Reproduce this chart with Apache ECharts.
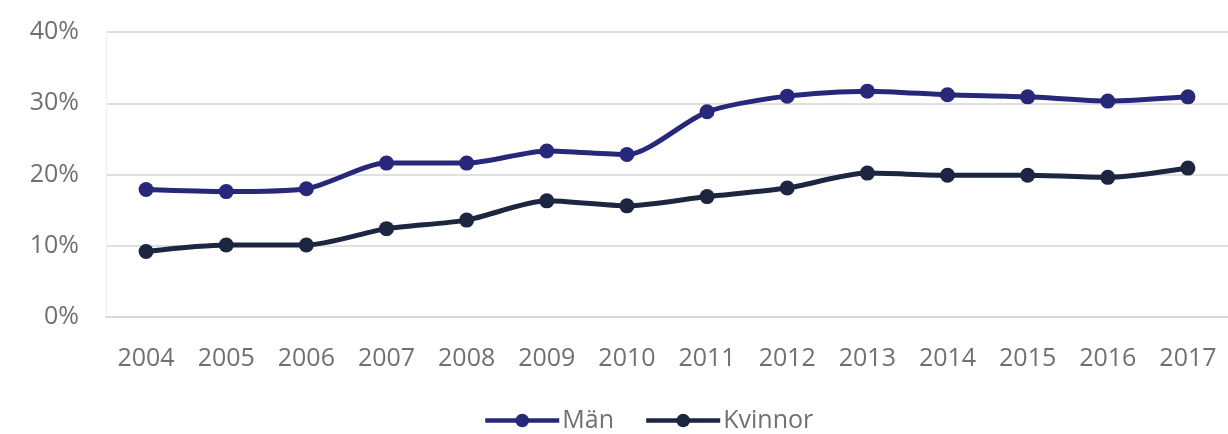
<!DOCTYPE html>
<html>
<head>
<meta charset="utf-8">
<script src="https://cdn.jsdelivr.net/npm/echarts@6/dist/echarts.min.js"></script>
<style>
html,body{margin:0;padding:0;background:#fff;}
#chart{width:1228px;height:434px;}
</style>
</head>
<body>
<div id="chart"></div>
<script>
const years = ['2004','2005','2006','2007','2008','2009','2010','2011','2012','2013','2014','2015','2016','2017'];
const man = [17.9, 17.6, 18.0, 21.6, 21.6, 23.3, 22.8, 28.8, 31.0, 31.7, 31.2, 30.9, 30.3, 30.9];
const kvinnor = [9.2, 10.1, 10.1, 12.4, 13.6, 16.3, 15.6, 16.9, 18.1, 20.2, 19.9, 19.9, 19.6, 20.9];
const yTicks = [0, 10, 20, 30, 40];

const chart = echarts.init(document.getElementById('chart'), null, {renderer: 'canvas'});
const font = '"Open Sans", sans-serif';
chart.setOption({
  backgroundColor: '#ffffff',
  animation: false,
  grid: {left: 106, right: -8, top: 32, bottom: 117, containLabel: false},
  legend: {
    top: 403,
    left: 478,
    itemWidth: 74,
    itemHeight: 17,
    itemGap: 30,
    lineStyle: {width: 4.5},
    textStyle: {fontFamily: font, fontSize: 25, color: '#707070', padding: [0, 0, 0, -2]},
    data: ['Män', 'Kvinnor']
  },
  xAxis: {
    type: 'category',
    data: years,
    boundaryGap: true,
    axisLine: {show: true, lineStyle: {color: '#d9d9d9', width: 2}},
    axisTick: {show: false},
    axisLabel: {fontFamily: font, fontSize: 25, color: '#707070', margin: 29}
  },
  yAxis: {
    type: 'value',
    min: yTicks[0],
    max: yTicks[yTicks.length - 1],
    interval: 10,
    axisLine: {show: true, lineStyle: {color: '#eeeeee', width: 1}},
    axisTick: {show: false},
    splitLine: {show: true, lineStyle: {color: '#e0e0e0', width: 2}},
    axisLabel: {fontFamily: font, fontSize: 25, color: '#707070', margin: 27, formatter: '{value}%'}
  },
  series: [
    {
      name: 'Män', type: 'line', data: man, smooth: 0.25,
      symbol: 'circle', symbolSize: 15,
      lineStyle: {color: '#27287a', width: 5},
      itemStyle: {color: '#27287a'}
    },
    {
      name: 'Kvinnor', type: 'line', data: kvinnor, smooth: 0.25,
      symbol: 'circle', symbolSize: 15,
      lineStyle: {color: '#1c2640', width: 5},
      itemStyle: {color: '#1c2640'}
    }
  ]
});
</script>
</body>
</html>
